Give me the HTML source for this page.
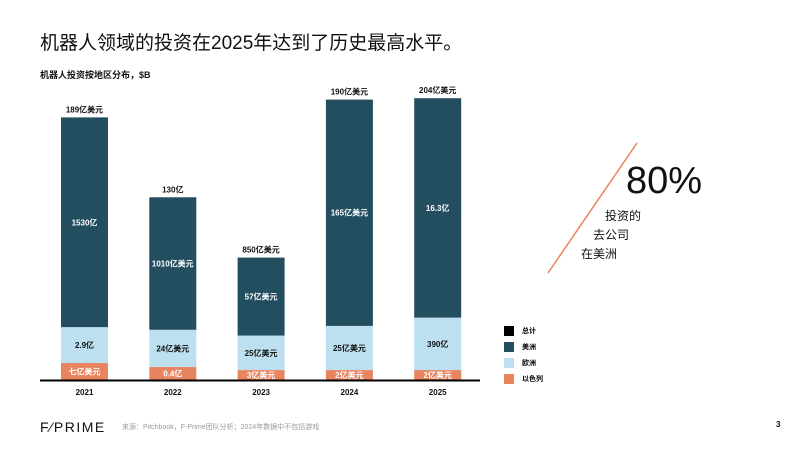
<!DOCTYPE html>
<html><head><meta charset="utf-8"><style>
body{margin:0;background:#fff;font-family:"Liberation Sans","Noto Sans CJK SC",sans-serif;}
#root{position:relative;width:800px;height:450px;overflow:hidden;}
.t{position:absolute;white-space:nowrap;}
</style></head><body><div id="root">
<div class="t" style="left:40px;top:28px;font-size:19px;color:#111;">机器人领域的投资在2025年达到了历史最高水平。</div>
<div class="t" style="left:40px;top:68px;font-size:9px;font-weight:bold;color:#111;">机器人投资按地区分布，$B</div>
<svg id="chart" width="800" height="450" style="position:absolute;left:0;top:0;font-family:'Liberation Sans','Noto Sans CJK SC',sans-serif;"></svg>
<svg width="800" height="450" style="position:absolute;left:0;top:0;"><line x1="548" y1="273" x2="637" y2="143" stroke="#e8845e" stroke-width="1.5"/></svg>
<div class="t" style="left:626px;top:160px;font-size:38px;color:#111;">80%</div>
<div class="t" style="left:605px;top:207px;font-size:12px;color:#111;">投资的</div>
<div class="t" style="left:593px;top:226px;font-size:12px;color:#111;">去公司</div>
<div class="t" style="left:581px;top:245px;font-size:12px;color:#111;">在美洲</div>
<div class="t" style="left:504px;top:324px;font-size:7px;font-weight:bold;line-height:16px;">
<div><span style="display:inline-block;width:10px;height:10px;background:#000;vertical-align:middle;margin-right:8px"></span>总计</div>
<div><span style="display:inline-block;width:10px;height:10px;background:#224e60;vertical-align:middle;margin-right:8px"></span>美洲</div>
<div><span style="display:inline-block;width:10px;height:10px;background:#bde0f0;vertical-align:middle;margin-right:8px"></span>欧洲</div>
<div><span style="display:inline-block;width:10px;height:10px;background:#e8845e;vertical-align:middle;margin-right:8px"></span>以色列</div>
</div>
<div class="t" style="left:40px;top:419px;font-size:14px;letter-spacing:1.5px;color:#111;">F⁄PRIME</div>
<div class="t" style="left:122px;top:422px;font-size:7px;color:#999;">来源：Pitchbook，F-Prime团队分析；2024年数据中不包括游戏</div>
<div class="t" style="left:776px;top:420px;font-size:8px;font-weight:bold;color:#111;">3</div>
</div>
<script>
const years=["2021","2022","2023","2024","2025"];
const israel=[1.23,0.94,0.72,0.72,0.72];
const europe=[2.6,2.7,2.5,3.2,3.8];
const us=[15.2,9.6,5.65,16.4,15.9];
const totalLabels=["189亿美元","130亿","850亿美元","190亿美元","204亿美元"];
const usLabels=["1530亿","1010亿美元","57亿美元","165亿美元","16.3亿"];
const euLabels=["2.9亿","24亿美元","25亿美元","25亿美元","390亿"];
const ilLabels=["七亿美元","0.4亿","3亿美元","2亿美元","2亿美元"];
const svg=document.getElementById('chart');const NS='http://www.w3.org/2000/svg';
const base=380,k=13.8,x0=61,step=88.3,bw=47;
const y=v=>base-v*k;const xb=i=>x0+i*step;
function mk(t,a){const e=document.createElementNS(NS,t);for(const n in a)e.setAttribute(n,a[n]);svg.appendChild(e);return e;}
function txt(s,x,yy,c,sz,nm){const e=mk('text',{x:x,y:yy,'text-anchor':'middle','font-size':sz,'font-weight':'bold',fill:c});e.textContent=s;

return e;}
years.forEach((yr,i)=>{
 const segs=[[israel[i],'#e8845e',ilLabels[i],'#fff','israel'],[europe[i],'#bde0f0',euLabels[i],'#111','europe'],[us[i],'#224e60',usLabels[i],'#fff','us']];
 let acc=0;
 segs.forEach(s=>{const r=mk('rect',{x:xb(i),y:y(acc+s[0]),width:bw,height:s[0]*k,fill:s[1]});
 
 
 const cy=y(acc+s[0]/2);txt(s[2],xb(i)+bw/2,cy+3,s[3],8,'label-'+s[4]+'-'+yr);acc+=s[0];});
 txt(totalLabels[i],xb(i)+bw/2,y(acc)-5,'#111',8,'total-label-'+yr);
 txt(yr,xb(i)+bw/2,395,'#111',8,'x-tick-'+yr);
});
const ax=mk('line',{x1:40,y1:380.5,x2:480,y2:380.5,stroke:'#000','stroke-width':2});


</script></body></html>
